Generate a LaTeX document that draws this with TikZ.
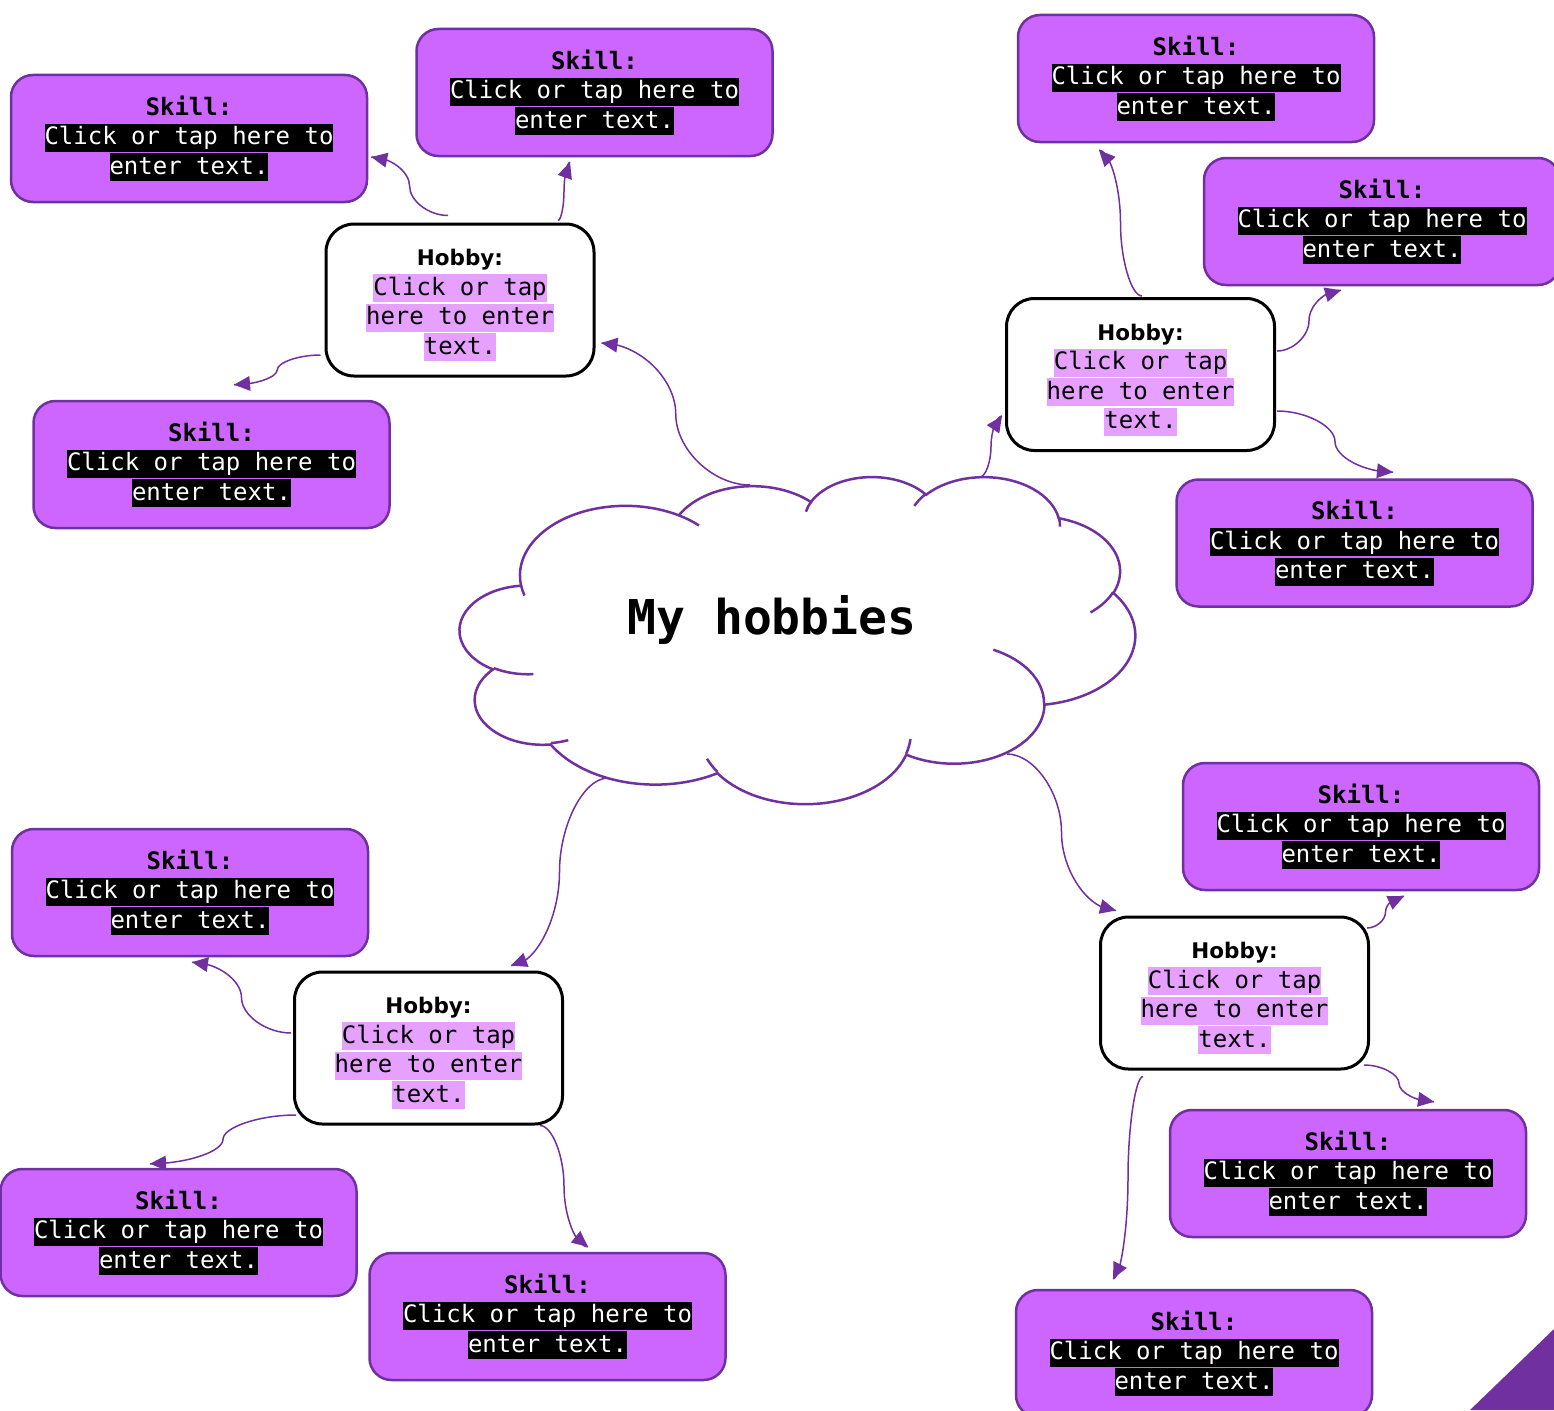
\documentclass[tikz,border=0pt]{standalone}
\usepackage{fontspec}
\usepackage{xcolor}
\usetikzlibrary{calc,decorations.markings}
\newfontfamily\monof{DejaVu Sans Mono}
\newfontfamily\hobf{DejaVu Sans}
\definecolor{pborder}{HTML}{7030A0}
\definecolor{skillfill}{HTML}{CC66FF}
\definecolor{hlpurple}{RGB}{230,160,255}
\newcommand\hlk[1]{{\setlength\fboxsep{0pt}\colorbox{black}{\color{white}\rule[-7pt]{0pt}{28pt}#1}}}
\newcommand\hlp[1]{{\setlength\fboxsep{0pt}\colorbox{hlpurple}{\rule[-7pt]{0pt}{28pt}#1}}}
\newcommand\skilltext{{\bfseries Skill:}\\\hlk{Click or tap here to}\\\hlk{enter text.}}
\newcommand\hobbytext{{\hobf\bfseries\fontsize{21.5}{29.5}\selectfont\rule{0pt}{27pt}Hobby:}\\\hlp{Click or tap}\\\hlp{here to enter}\\\hlp{text.}}
\newcommand\sconn[2]{%
  \draw[connline, postaction={decorate, decoration={markings, mark=at position -16pt with {\coordinate (qq);}}}]
    let \p1=(#1), \p2=(#2) in (\p1)
    .. controls ({(3*\x1+\x2)/4},\y1) and ({(\x1+\x2)/2},{(3*\y1+\y2)/4}) .. ({(\x1+\x2)/2},{(\y1+\y2)/2})
    .. controls ({(\x1+\x2)/2},{(\y1+3*\y2)/4}) and ({(\x1+3*\x2)/4},\y2) .. (\p2);
  \coordinate (bb) at ($(#2)!16pt!(qq)$);
  \fill[pborder] (#2) -- ($(bb)!7.5pt!90:(#2)$) -- ($(bb)!7.5pt!-90:(#2)$) -- cycle;}
\begin{document}
\begin{tikzpicture}[x=1pt,y=-1pt,
  skillbox/.style={draw=pborder, line width=2.5pt, fill=skillfill, rounded corners=22pt,
    minimum width=356pt, minimum height=127pt, inner sep=0pt, align=center,
    font=\monof\fontsize{24}{29.5}\selectfont},
  hobbybox/.style={draw=black, line width=3pt, fill=white, rounded corners=28pt,
    minimum width=268pt, minimum height=152pt, inner sep=0pt, align=center,
    font=\monof\fontsize{24}{29.5}\selectfont},
  connline/.style={draw=pborder, line width=1.5pt},
  cloudline/.style={draw=pborder, line width=2.5pt}]
\fill[white] (0,0) rectangle (1554,1410);
\useasboundingbox (0,0) rectangle (1554,1410);
% cloud
\begin{scope}[shift={(460,476)}, x=1.5625pt, y=-0.75694pt]
\draw[cloudline, fill=white] (39.00,143.70)
 arc[start angle=-187.75, end angle=-59.64, x radius=67.53, y radius=91.90]
 arc[start angle=-152.02, end angle=-45.44, x radius=53.33, y radius=72.67]
 arc[start angle=-153.48, end angle=-37.33, x radius=43.65, y radius=59.45]
 arc[start angle=-139.72, end angle=-10.22, x radius=48.57, y radius=65.95]
 arc[start angle=-74.77, end angle=23.21, x radius=53.33, y radius=72.73]
 arc[start angle=-37.54, end angle=81.86, x radius=67.75, y radius=92.20]
 arc[start angle=0.46, end angle=121.98, x radius=57.85, y radius=78.67]
 arc[start angle=16.85, end angle=146.25, x radius=67.52, y radius=92.15]
 arc[start angle=58.98, end angle=150.19, x radius=77.20, y radius=105.43]
 arc[start angle=83.31, end angle=223.12, x radius=43.60, y radius=59.18]
 arc[start angle=120.35, end angle=264.11, x radius=43.45, y radius=59.45]
 -- cycle;
\draw[cloudline] (46.93,261.77) arc[start angle=85.54, end angle=120.35, x radius=43.45, y radius=59.45];
\draw[cloudline] (69.28,348.99) arc[start angle=68.23, end angle=83.31, x radius=43.60, y radius=59.18];
\draw[cloudline] (164.78,390.90) arc[start angle=146.25, end angle=158.47, x radius=67.52, y radius=92.15];
\draw[cloudline] (288.27,347.51) arc[start angle=4.73, end angle=16.85, x radius=67.52, y radius=92.15];
\draw[cloudline] (341.29,229.54) arc[start angle=-64.02, end angle=0.46, x radius=57.85, y radius=78.67];
\draw[cloudline] (417.98,153.54) arc[start angle=23.21, end angle=49.64, x radius=53.33, y radius=72.73];
\draw[cloudline] (383.24,54.26) arc[start angle=-10.22, end angle=0.825, x radius=48.57, y radius=65.95];
\draw[cloudline] (290.78,39.52) arc[start angle=-156.29, end angle=-139.72, x radius=48.57, y radius=65.95];
\draw[cloudline] (221.41,47.20) arc[start angle=-167.72, end angle=-153.48, x radius=43.65, y radius=59.45];
\draw[cloudline] (140.00,51.92) arc[start angle=-59.64, end angle=-45.76, x radius=67.53, y radius=91.90];
\draw[cloudline] (41.27,157.89) arc[start angle=163.19, end angle=172.25, x radius=67.53, y radius=91.90];
\end{scope}
\node[font=\monof\bfseries\fontsize{48}{50}\selectfont] (title) at (772,620) {My hobbies};
% skill boxes
\node[skillbox] (S1) at (189,138.5) {\skilltext};
\node[skillbox] (S2) at (594.5,92.5) {\skilltext};
\node[skillbox] (S3) at (211.5,464.5) {\skilltext};
\node[skillbox] (S4) at (1196,78.5) {\skilltext};
\node[skillbox] (S5) at (1382,221.5) {\skilltext};
\node[skillbox] (S6) at (1354.5,543) {\skilltext};
\node[skillbox] (S7) at (1361,826.5) {\skilltext};
\node[skillbox] (S8) at (1348,1173.5) {\skilltext};
\node[skillbox] (S9) at (1194,1353.5) {\skilltext};
\node[skillbox] (S10) at (190,892.5) {\skilltext};
\node[skillbox] (S11) at (178.5,1232.5) {\skilltext};
\node[skillbox] (S12) at (547.5,1316.5) {\skilltext};
% hobby boxes
\node[hobbybox] (H1) at (460,300) {\hobbytext};
\node[hobbybox] (H2) at (1140.5,374.5) {\hobbytext};
\node[hobbybox] (H3) at (428.5,1048) {\hobbytext};
\node[hobbybox] (H4) at (1234.5,993) {\hobbytext};
% connector ends
\coordinate (a1) at ($(H1.north)+(-12,-7)$); \coordinate (b1) at ($(S1.east)+(3,18.5)$);
\coordinate (a2) at ($(H1.north)+(98,-2)$); \coordinate (b2) at ($(S2.south)+(-24.5,5)$);
\coordinate (a3) at ($(H1.west)+(-4,55)$); \coordinate (b3) at ($(S3.north)+(22.5,-15)$);
\coordinate (a4) at (750,485); \coordinate (b4) at ($(H1.east)+(6,43)$);
\coordinate (a5) at (980,477); \coordinate (b5) at ($(H2.west)+(-3,41.5)$);
\coordinate (a6) at ($(H2.north)+(1.5,-1)$); \coordinate (b6) at ($(S4.south)+(-97,7)$);
\coordinate (a7) at ($(H2.east)+(1,-23.5)$); \coordinate (b7) at ($(S5.south)+(-41,4)$);
\coordinate (a8) at ($(H2.east)+(1,36.5)$); \coordinate (b8) at ($(S6.north)+(38.5,-6)$);
\coordinate (a9) at (1007,754); \coordinate (b9) at ($(H4.north west)+(17,-5)$);
\coordinate (a10) at (608,778); \coordinate (b10) at ($(H3.north)+(82.5,-5)$);
\coordinate (a11) at ($(H3.west)+(-2,-15)$); \coordinate (b11) at ($(S10.south)+(2,5)$);
\coordinate (a12) at ($(H3.west)+(3,67)$); \coordinate (b12) at ($(S11.north)+(-28.5,-4)$);
\coordinate (a13) at ($(H3.south)+(111.5,0)$); \coordinate (b13) at ($(S12.north)+(40.5,-5)$);
\coordinate (a14) at ($(H4.east)+(-3,-65)$); \coordinate (b14) at ($(S7.south)+(43,5)$);
\coordinate (a15) at ($(H4.east)+(-6,72)$); \coordinate (b15) at ($(S8.north)+(86,-7)$);
\coordinate (a16) at ($(H4.south)+(-91.5,6)$); \coordinate (b16) at ($(S9.north)+(-81,-10)$);
\foreach \i in {1,...,16} {\sconn{a\i}{b\i}}
% corner triangle
\fill[pborder] (1470,1410) -- (1554,1329) -- (1554,1410) -- cycle;
\end{tikzpicture}
\end{document}
